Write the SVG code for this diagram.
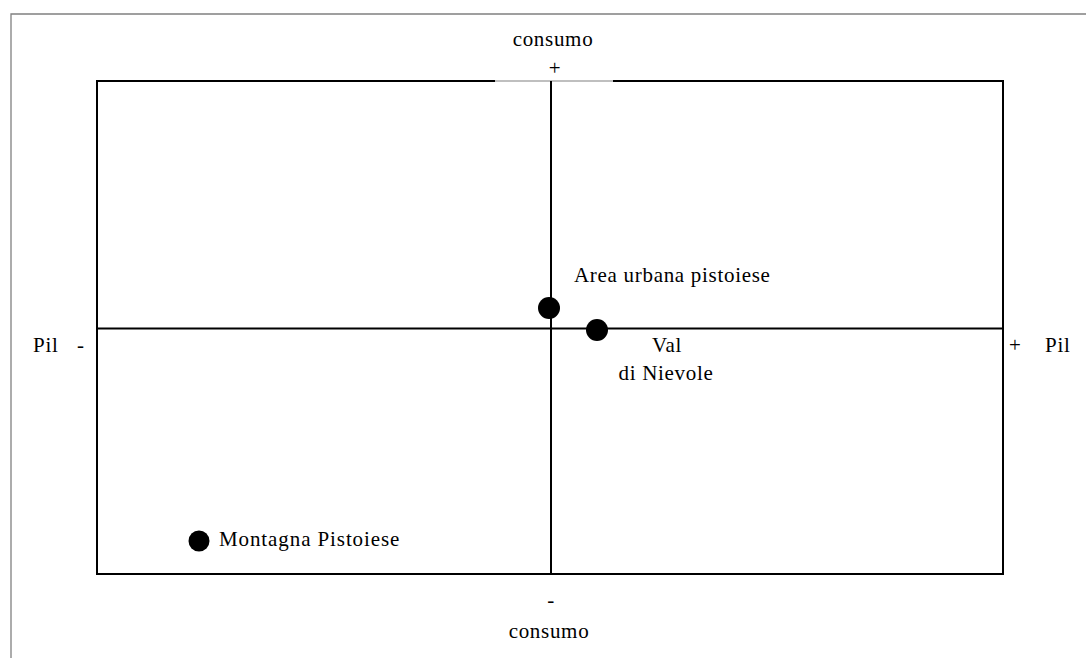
<svg xmlns="http://www.w3.org/2000/svg" width="1086" height="658" viewBox="0 0 1086 658">
<style>
text{font-family:"Liberation Serif","Times New Roman",serif;font-size:21px;letter-spacing:0.7px;fill:#000}
.frame{stroke:#808080;stroke-width:1.3;fill:none}
.ax{stroke:#000;stroke-width:2;fill:none}
.dot{fill:#000}
</style>
<rect width="1086" height="658" fill="#fff"/>
<g id="frame">
<path class="frame" d="M11,658 V14 H1086"/>
</g>
<g id="connectors">
<path class="ax" d="M495,81 H97 V574 H1003 V81 H613"/>
<path d="M495,81 H613" stroke="#808080" stroke-width="1.2"/>
<path class="ax" d="M551,81 V574"/>
<path class="ax" d="M97,328.5 H1003"/>
</g>
<g id="axis-top">
<text x="553" y="46" text-anchor="middle">consumo</text>
<text x="555" y="75" text-anchor="middle">+</text>
</g>
<g id="axis-bottom">
<text x="551" y="607" text-anchor="middle">-</text>
<text x="549" y="638" text-anchor="middle">consumo</text>
</g>
<g id="axis-left">
<text x="33" y="352">Pil<tspan x="77">-</tspan></text>
</g>
<g id="axis-right">
<text x="1009" y="352">+<tspan x="1045">Pil</tspan></text>
</g>
<g id="area-urbana">
<circle class="dot" cx="549" cy="308" r="11"/>
<text x="574" y="282">Area urbana pistoiese</text>
</g>
<g id="val-di-nievole">
<circle class="dot" cx="597" cy="330" r="11"/>
<text x="667" y="352" text-anchor="middle">Val</text>
<text x="666" y="380" text-anchor="middle">di Nievole</text>
</g>
<g id="montagna">
<circle class="dot" cx="199" cy="541" r="10.5"/>
<text x="219" y="546" style="letter-spacing:0.9px">Montagna Pistoiese</text>
</g>
</svg>
